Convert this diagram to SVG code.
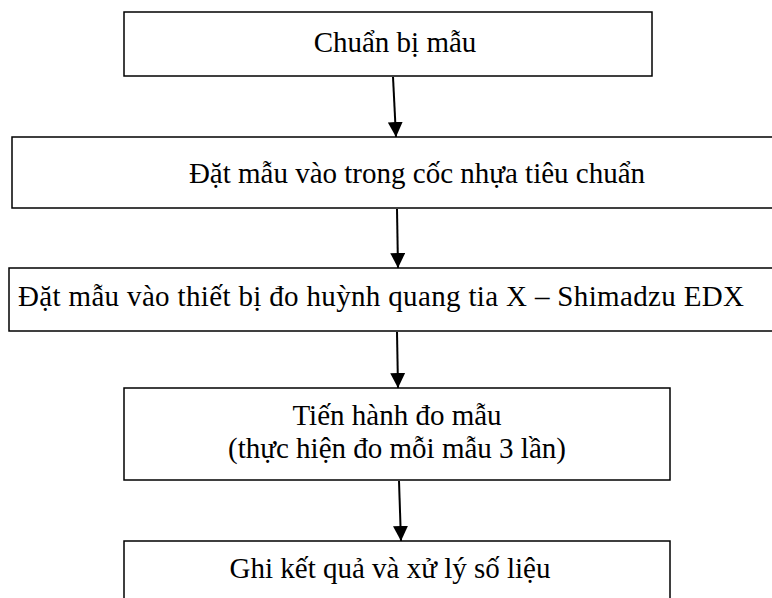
<svg xmlns="http://www.w3.org/2000/svg" width="772" height="598" viewBox="0 0 772 598">
<style>
.box{fill:#fff;stroke:#000;stroke-width:1.5}
text{font-family:'Liberation Serif','Times New Roman',serif;font-size:29px;fill:#000}
.c{text-anchor:middle}
.conn{stroke:#000;stroke-width:2;fill:none}
</style>
<defs>
<marker id="ah" viewBox="0 0 15 15" refX="15" refY="7.5" markerWidth="15" markerHeight="15" markerUnits="userSpaceOnUse" orient="auto">
<path d="M0,0 L15,7.5 L0,15 Z" fill="#000"/>
</marker>
</defs>
<rect width="772" height="598" fill="#fff"/>
<g id="n1">
<rect class="box" x="124" y="12" width="528" height="64"/>
<text class="c" x="395" y="52">Chuẩn bị mẫu</text>
</g>
<g id="n2">
<rect class="box" x="12" y="137" width="780" height="71"/>
<text class="c" x="417" y="183">Đặt mẫu vào trong cốc nhựa tiêu chuẩn</text>
</g>
<g id="n3">
<rect class="box" x="9" y="268" width="783" height="63"/>
<text x="18" y="306" textLength="726" lengthAdjust="spacing">Đặt mẫu vào thiết bị đo huỳnh quang tia X – Shimadzu EDX</text>
</g>
<g id="n4">
<rect class="box" x="124" y="388" width="546" height="92"/>
<text class="c" x="397" y="425">Tiến hành đo mẫu</text>
<text class="c" x="397" y="458">(thực hiện đo mỗi mẫu 3 lần)</text>
</g>
<g id="n5">
<rect class="box" x="124" y="541" width="546" height="80"/>
<text class="c" x="390" y="578">Ghi kết quả và xử lý số liệu</text>
</g>
<g id="connectors">
<line class="conn" x1="393" y1="77" x2="396" y2="137" marker-end="url(#ah)"/>
<line class="conn" x1="397" y1="209" x2="398" y2="268" marker-end="url(#ah)"/>
<line class="conn" x1="397" y1="332" x2="398" y2="388" marker-end="url(#ah)"/>
<line class="conn" x1="399" y1="481" x2="401" y2="541" marker-end="url(#ah)"/>
</g>
</svg>
